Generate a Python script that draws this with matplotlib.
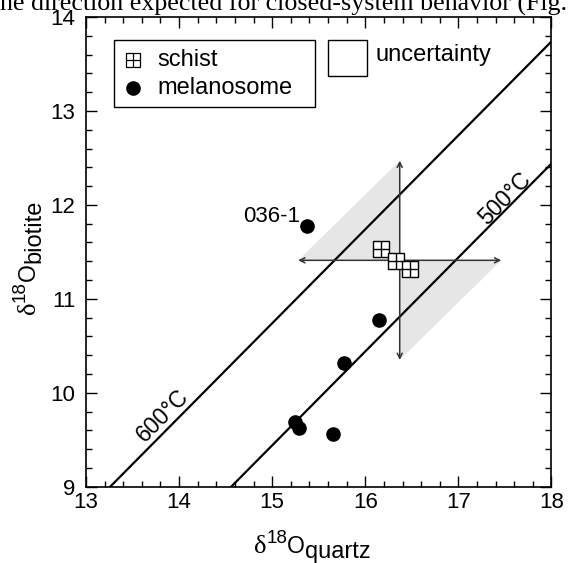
import matplotlib
matplotlib.use('Agg')
import matplotlib.pyplot as plt
import matplotlib.patches as patches
from matplotlib.ticker import MultipleLocator

# podaci procitani sa slike
schist_x = [16.17, 16.33, 16.48]
schist_y = [11.53, 11.40, 11.32]
mel_x = [15.37, 16.15, 15.77, 15.25, 15.29, 15.65]
mel_y = [11.78, 10.77, 10.32, 9.69, 9.63, 9.56]
iso_delta = [4.26, 5.56]          # delta(qz-bt) za 600 i 500 C
iso_labels = ['600°C', '500°C']
iso_label_x = [13.82, 17.50]
iso_label_y = [9.75, 12.07]
unc_center = (16.37, 11.41)
unc_half = (1.09, 1.06)
x_range = [13, 18]
y_range = [9, 14]

plt.rcParams['font.family'] = ['Liberation Sans', 'DejaVu Sans']

W, H = 571, 563
fig = plt.figure(figsize=(W / 100, H / 100), dpi=100)
ax = fig.add_axes([0.1506, 0.1355, 0.8152, 0.8343])


def sastavi_labelu(fig, delovi, x0, y0, vertikalno=False):
    # delovi: (tekst, velicina, familija, pomak u px) - crta jedan za drugim
    r = fig.canvas.get_renderer()
    pos = x0 if not vertikalno else y0
    for tekst, vel, fam, pomak in delovi:
        if vertikalno:
            t = fig.text((x0 + pomak) / W, 1 - pos / H, tekst, fontsize=vel, family=fam,
                         rotation=90, rotation_mode='anchor', ha='left', va='baseline')
            pos -= t.get_window_extent(r).height
        else:
            t = fig.text(pos / W, 1 - (y0 + pomak) / H, tekst, fontsize=vel, family=fam,
                         ha='left', va='baseline')
            pos += t.get_window_extent(r).width


# odsecen tekst sa strane iz rada
fig.text(0.0, 1 - 11 / H, 'he direction expected for closed-system behavior (Fig.',
         family='Liberation Serif', fontsize=18.7, ha='left', va='baseline')

# osenceni trouglovi nesigurnosti
cx, cy = unc_center
hx, hy = unc_half
ax.add_patch(patches.Polygon([(cx - hx, cy), (cx, cy + hy), (cx, cy)],
                             closed=True, facecolor='#e6e6e6', edgecolor='none', zorder=1))
ax.add_patch(patches.Polygon([(cx, cy - hy), (cx + hx, cy), (cx, cy)],
                             closed=True, facecolor='#e6e6e6', edgecolor='none', zorder=1))

# izoterme
for d, lab, lx, ly in zip(iso_delta, iso_labels, iso_label_x, iso_label_y):
    ax.plot(x_range, [x_range[0] - d, x_range[1] - d], color='black', lw=1.6, zorder=2)
    ax.text(lx, ly, lab, rotation=45, rotation_mode='anchor', ha='center', va='center',
            fontsize=16.5, transform_rotates_text=True)

# strelice
arr = dict(arrowstyle='<->', color='#333333', lw=1.1, mutation_scale=9, shrinkA=0, shrinkB=0)
ax.annotate('', xy=(cx - hx, cy), xytext=(cx + hx, cy), arrowprops=arr, zorder=3)
ax.annotate('', xy=(cx, cy - hy), xytext=(cx, cy + hy), arrowprops=arr, zorder=3)

# tacke
ax.plot(mel_x, mel_y, 'o', color='black', ms=9.5, zorder=4)
ax.plot(schist_x, schist_y, 's', mfc='white', mec='black', mew=1.0, ms=11, zorder=5)
ax.plot(schist_x, schist_y, '+', color='black', mew=1.0, ms=11, zorder=6)
ax.text(mel_x[0] - 0.07, mel_y[0] + 0.1, '036-1', ha='right', va='center', fontsize=16)

# legenda - rucno
ax.add_patch(patches.Rectangle((0.060, 0.809), 0.432, 0.142, transform=ax.transAxes,
                               facecolor='white', edgecolor='black', lw=1.0, zorder=7))
ax.plot([0.101], [0.908], 's', mfc='white', mec='black', mew=0.9, ms=10, transform=ax.transAxes, zorder=8)
ax.plot([0.101], [0.908], '+', color='black', mew=0.9, ms=10, transform=ax.transAxes, zorder=9)
ax.plot([0.101], [0.849], 'o', color='black', ms=9.5, transform=ax.transAxes, zorder=8)
ax.text(0.153, 0.908, 'schist', transform=ax.transAxes, va='center', fontsize=17, zorder=9)
ax.text(0.153, 0.849, 'melanosome', transform=ax.transAxes, va='center', fontsize=17, zorder=9)
ax.add_patch(patches.Rectangle((0.520, 0.874), 0.084, 0.077, transform=ax.transAxes,
                               facecolor='white', edgecolor='black', lw=1.0, zorder=7))
ax.text(0.621, 0.919, 'uncertainty', transform=ax.transAxes, va='center', fontsize=17, zorder=9)

ax.set_xlim(x_range)
ax.set_ylim(y_range)
ax.xaxis.set_major_locator(MultipleLocator(1))
ax.xaxis.set_minor_locator(MultipleLocator(0.2))
ax.yaxis.set_major_locator(MultipleLocator(1))
ax.yaxis.set_minor_locator(MultipleLocator(0.2))
ax.tick_params(which='both', direction='in', top=True, right=True, width=1.0)
ax.tick_params(which='major', length=8, labelsize=16)
ax.tick_params(axis='x', which='major', pad=3.5)
ax.tick_params(axis='y', which='major', pad=7.5)
ax.tick_params(which='minor', length=4.5)
for s in ax.spines.values():
    s.set_linewidth(1.2)

# oznake osa: delta, 18 gore, O, indeks dole
sastavi_labelu(fig, [('δ', 19, 'Liberation Serif', 0), ('18', 13.5, 'Liberation Sans', -10),
                     ('O', 16.5, 'Liberation Sans', 0), ('quartz', 17, 'Liberation Sans', 5)],
               254, 553)
sastavi_labelu(fig, [('δ', 19, 'Liberation Serif', 0), ('18', 13.5, 'Liberation Sans', -10),
                     ('O', 16.5, 'Liberation Sans', 0), ('biotite', 17, 'Liberation Sans', 5)],
               35, 314, vertikalno=True)

fig.savefig('out.png', dpi=100)
